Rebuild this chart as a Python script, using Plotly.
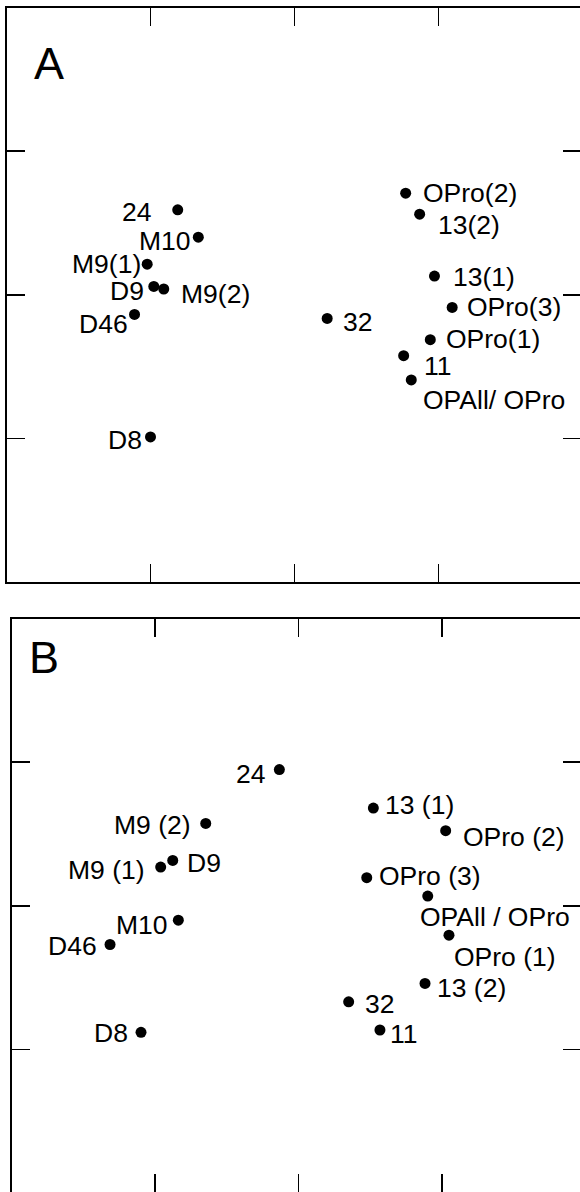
import plotly.graph_objects as go

# ---------------- data ----------------
labels_a = ["24", "M10", "M9(1)", "D9", "M9(2)", "D46", "D8", "32",
            "OPro(2)", "13(2)", "13(1)", "OPro(3)", "OPro(1)", "11", "OPAll/ OPro"]
x_a = [-0.811, -0.668, -1.023, -0.977, -0.908, -1.111, -1.000, 0.227,
       0.772, 0.869, 0.972, 1.095, 0.943, 0.758, 0.811]
y_a = [0.591, 0.401, 0.213, 0.058, 0.040, -0.137, -0.990, -0.165,
       0.707, 0.561, 0.130, -0.088, -0.313, -0.424, -0.593]

labels_b = ["24", "M9 (2)", "M9 (1)", "D9", "M10", "D46", "D8", "13 (1)",
            "OPro (2)", "OPro (3)", "OPAll / OPro", "OPro (1)", "13 (2)", "32", "11"]
x_b = [-0.132, -0.645, -0.959, -0.875, -0.836, -1.312, -1.096, 0.523,
       1.027, 0.477, 0.902, 1.050, 0.883, 0.351, 0.569]
y_b = [0.949, 0.574, 0.271, 0.317, -0.099, -0.268, -0.879, 0.681,
       0.524, 0.197, 0.069, -0.203, -0.539, -0.667, -0.863]

tick_vals = [-1, 0, 1]
panel_titles = ["A", "B"]

# ---------------- label placement (style) ----------------
# (xanchor, xshift px, yshift px)
place_a = [("right", -25, -2), ("right", -5, -4), ("right", -4, 0), ("right", -8, -5),
           ("left", 15, -5), ("right", -5, -10), ("right", -7, -3), ("left", 14, -4),
           ("left", 15, 0), ("left", 16, -11), ("left", 17, -1), ("left", 13, 0),
           ("left", 14, 1), ("left", 18, -10), ("left", 10, -20)]
place_b = [("right", -12, -4), ("right", -13, -2), ("right", -14, -3), ("left", 12, -3),
           ("right", -8, -5), ("right", -11, -2), ("right", -11, -1), ("left", 10, 3),
           ("left", 15, -6), ("left", 10, 2), ("left", -10, -21), ("left", 3, -22),
           ("left", 10, -5), ("left", 14, -2), ("left", 8, -4)]

W, H = 580, 1192
FONT = "Liberation Sans, Arial, Helvetica, sans-serif"
LABEL_SIZE = 26.5

fig = go.Figure()
fig.add_trace(go.Scatter(x=x_a, y=y_a, mode="markers", xaxis="x", yaxis="y",
                         marker=dict(color="black", size=11), hoverinfo="skip"))
fig.add_trace(go.Scatter(x=x_b, y=y_b, mode="markers", xaxis="x2", yaxis="y2",
                         marker=dict(color="black", size=11), hoverinfo="skip"))
# invisible traces so the right-hand tick axes are rendered
fig.add_trace(go.Scatter(x=x_a, y=y_a, mode="markers", xaxis="x", yaxis="y3",
                         marker=dict(color="black", size=11, opacity=0), hoverinfo="skip"))
fig.add_trace(go.Scatter(x=x_b, y=y_b, mode="markers", xaxis="x2", yaxis="y4",
                         marker=dict(color="black", size=11, opacity=0), hoverinfo="skip"))

annotations = []
for lbls, xs, ys, pl, xr, yr in [(labels_a, x_a, y_a, place_a, "x", "y"),
                                 (labels_b, x_b, y_b, place_b, "x2", "y2")]:
    for t, xv, yv, (anc, dx, dy) in zip(lbls, xs, ys, pl):
        annotations.append(dict(x=xv, y=yv, xref=xr, yref=yr, text=t, showarrow=False,
                                xanchor=anc, yanchor="middle", xshift=dx, yshift=dy,
                                font=dict(size=LABEL_SIZE, color="black", family=FONT)))

# panel letters
annotations.append(dict(x=32 / W, y=1 - 63 / H, xref="paper", yref="paper", text=panel_titles[0],
                        showarrow=False, xanchor="left", yanchor="middle",
                        font=dict(size=45, color="black", family=FONT)))
annotations.append(dict(x=27 / W, y=1 - 657 / H, xref="paper", yref="paper", text=panel_titles[1],
                        showarrow=False, xanchor="left", yanchor="middle",
                        font=dict(size=45, color="black", family=FONT)))

common_x = dict(showline=True, linecolor="black", linewidth=2, mirror="ticks",
                ticks="inside", ticklen=18, tickwidth=1.5, tickcolor="black",
                tickvals=tick_vals, showticklabels=False, showgrid=False, zeroline=False)
common_y = dict(showline=True, linecolor="black", linewidth=2, mirror=False,
                ticks="inside", ticklen=18, tickwidth=1.5, tickcolor="black",
                tickvals=tick_vals, showticklabels=False, showgrid=False, zeroline=False)
right_y = dict(showline=False, linecolor="rgba(0,0,0,0)", mirror=False,
               ticks="inside", ticklen=17, tickwidth=1.5, tickcolor="black",
               tickvals=tick_vals, showticklabels=False, showgrid=False, zeroline=False,
               side="right")

# Panel pixel geometry
a_left, a_top, a_bottom = 7.0, 7.5, 582
b_left, b_top, b_bottom = 11.5, 618.5, 1192
a_zero_x, a_step = 294.5, 144.0
b_zero_x, b_step = 298.3, 143.5

xr_a = [-(a_zero_x - a_left) / a_step, (W - a_zero_x) / a_step]
yr_a = [-2.0, 2.0]
xr_b = [-(b_zero_x - b_left) / b_step, (W - b_zero_x) / b_step]
yr_b = [-1.99, 2.0]

fig.update_layout(
    width=W, height=H,
    margin=dict(l=0, r=0, t=0, b=0),
    paper_bgcolor="white", plot_bgcolor="white",
    showlegend=False,
    annotations=annotations,
    xaxis=dict(domain=[a_left / W, 1], range=xr_a, anchor="y", **common_x),
    yaxis=dict(domain=[1 - a_bottom / H, 1 - a_top / H], range=yr_a, anchor="x", **common_y),
    yaxis3=dict(overlaying="y", anchor="x", range=yr_a, **right_y),
    xaxis2=dict(domain=[b_left / W, 1], range=xr_b, anchor="y2", **common_x),
    yaxis2=dict(domain=[1 - b_bottom / H, 1 - b_top / H], range=yr_b, anchor="x2", **common_y),
    yaxis4=dict(overlaying="y2", anchor="x2", range=yr_b, **right_y),
)

fig.write_html(
    "out.html",
    config={"displayModeBar": False, "staticPlot": True},
    post_script="document.body.style.margin='0';document.body.style.padding='0';"
                "document.documentElement.style.overflow='hidden';"
                "document.body.style.overflow='hidden';",
)
